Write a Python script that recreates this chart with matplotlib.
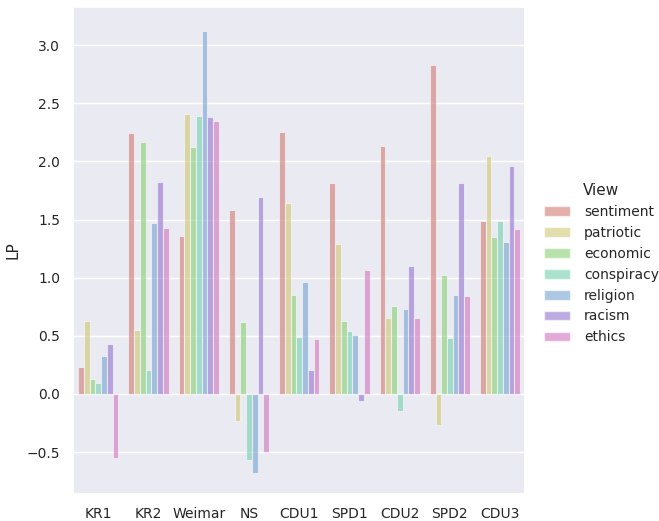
import numpy as np
import matplotlib
matplotlib.use("Agg")
import matplotlib.pyplot as plt
import seaborn as sns
from matplotlib.patches import Patch

# ==== Data ====
periods = ["KR1", "KR2", "Weimar", "NS", "CDU1", "SPD1", "CDU2", "SPD2", "CDU3"]
views = ["sentiment", "patriotic", "economic", "conspiracy", "religion", "racism", "ethics"]

sentiment = [0.23, 2.24, 1.36, 1.58, 2.25, 1.81, 2.13, 2.83, 1.49]
patriotic = [0.63, 0.55, 2.41, -0.23, 1.64, 1.29, 0.65, -0.27, 2.05]
economic = [0.13, 2.17, 2.12, 0.62, 0.85, 0.63, 0.76, 1.02, 1.35]
conspiracy = [0.095, 0.21, 2.39, -0.57, 0.49, 0.54, -0.15, 0.48, 1.49]
religion = [0.33, 1.47, 3.12, -0.68, 0.96, 0.51, 0.73, 0.85, 1.31]
racism = [0.43, 1.82, 2.38, 1.69, 0.21, -0.06, 1.10, 1.81, 1.96]
ethics = [-0.55, 1.43, 2.35, -0.50, 0.47, 1.07, 0.65, 0.84, 1.42]

values = [sentiment, patriotic, economic, conspiracy, religion, racism, ethics]

# ==== Plot ====
sns.set_theme(style="darkgrid")
plt.rcParams["font.family"] = ["DejaVu Sans"]
colors = [sns.desaturate(c, 0.75) for c in sns.color_palette("hls", len(views))]
ALPHA = 0.55

fig = plt.figure(figsize=(6.59, 5.21), dpi=100)
ax = fig.add_axes([0.111, 0.052, 0.686, 0.935])

x = np.arange(len(periods))
width = 0.8 / len(views)
for i, (view, vals) in enumerate(zip(views, values)):
    offset = -0.4 + width * (i + 0.5)
    ax.bar(x + offset, vals, width=width, color=colors[i], alpha=ALPHA,
           edgecolor="white", linewidth=0.8, label=view)

ax.set_xticks(x)
ax.set_xticklabels(periods, fontsize=10)
ax.tick_params(axis="y", labelsize=10)
ax.xaxis.grid(False)
ax.set_xlim(-0.5, len(periods) - 0.5)
ax.set_ylim(-0.86, 3.33)
ax.set_ylabel("LP", fontsize=11)

handles = [Patch(facecolor=colors[i], alpha=ALPHA, edgecolor="white", label=v)
           for i, v in enumerate(views)]
leg = fig.legend(handles=handles, title="View", loc="center left",
                 bbox_to_anchor=(0.806, 0.494), frameon=False, fontsize=10,
                 title_fontsize=11, handletextpad=1.0, handlelength=1.9)

fig.savefig("out.png", dpi=100)
